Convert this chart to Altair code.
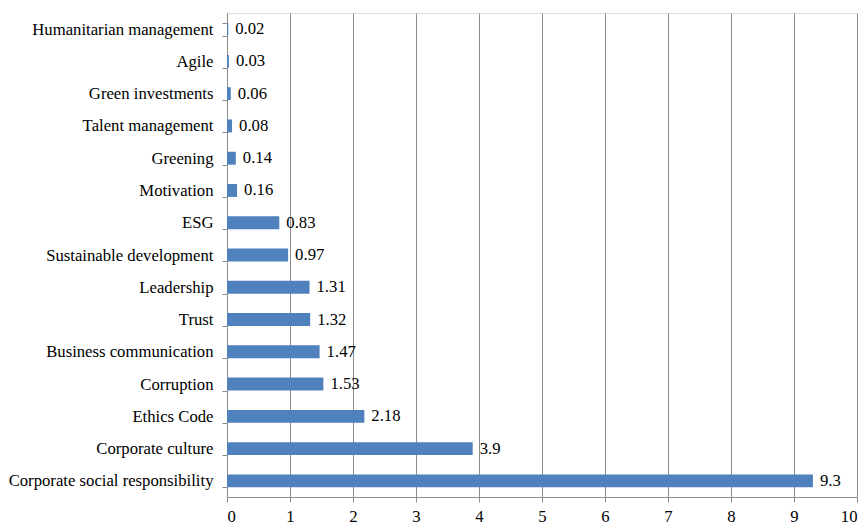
import altair as alt
import pandas as pd

# Topic frequency (%) per research theme
topics = [
    "Humanitarian management",
    "Agile",
    "Green investments",
    "Talent management",
    "Greening",
    "Motivation",
    "ESG",
    "Sustainable development",
    "Leadership",
    "Trust",
    "Business communication",
    "Corruption",
    "Ethics Code",
    "Corporate culture",
    "Corporate social responsibility",
]
values = [0.02, 0.03, 0.06, 0.08, 0.14, 0.16, 0.83, 0.97, 1.31, 1.32, 1.47, 1.53, 2.18, 3.9, 9.3]
x_ticks = list(range(0, 11))

df = pd.DataFrame({"topic": topics, "value": values})
df["label"] = [f"{v:g}" for v in values]

FONT = "Liberation Serif"
FS = 16.7
GRID = "#8c8c8c"

y_enc = alt.Y(
    "topic:N",
    sort=topics,
    scale=alt.Scale(paddingInner=0.6, paddingOuter=0.3),
    axis=alt.Axis(
        title=None,
        tickBand="extent",
        tickSize=5,
        tickColor=GRID,
        domainColor=GRID,
        labelPadding=9,
        labelFont=FONT,
        labelFontSize=FS,
        labelColor="#000000",
        labelLimit=400,
        grid=False,
    ),
)

x_enc = alt.X(
    "value:Q",
    scale=alt.Scale(domain=[0, 10], nice=False),
    axis=alt.Axis(
        title=None,
        values=x_ticks,
        format="d",
        tickSize=5,
        tickColor=GRID,
        domainColor=GRID,
        gridColor=GRID,
        gridWidth=1,
        labelPadding=6,
        labelFont=FONT,
        labelFontSize=FS,
        labelColor="#000000",
    ),
)

bars = alt.Chart(df).mark_bar(color="#4F81BD").encode(x=x_enc, y=y_enc)

labels = alt.Chart(df).mark_text(
    align="left", baseline="middle", dx=7, font=FONT, fontSize=FS, color="#000000"
).encode(x="value:Q", y=alt.Y("topic:N", sort=topics), text="label:N")

chart = (
    alt.layer(bars, labels)
    .properties(
        width=630,
        height=484,
        autosize=alt.AutoSizeParams(type="none"),
        padding={"left": 227, "top": 13, "right": 10, "bottom": 33},
    )
    .configure_view(stroke=None)
    .configure(background="white")
)

chart.save("out.html", embed_options={"renderer": "svg", "actions": False})
